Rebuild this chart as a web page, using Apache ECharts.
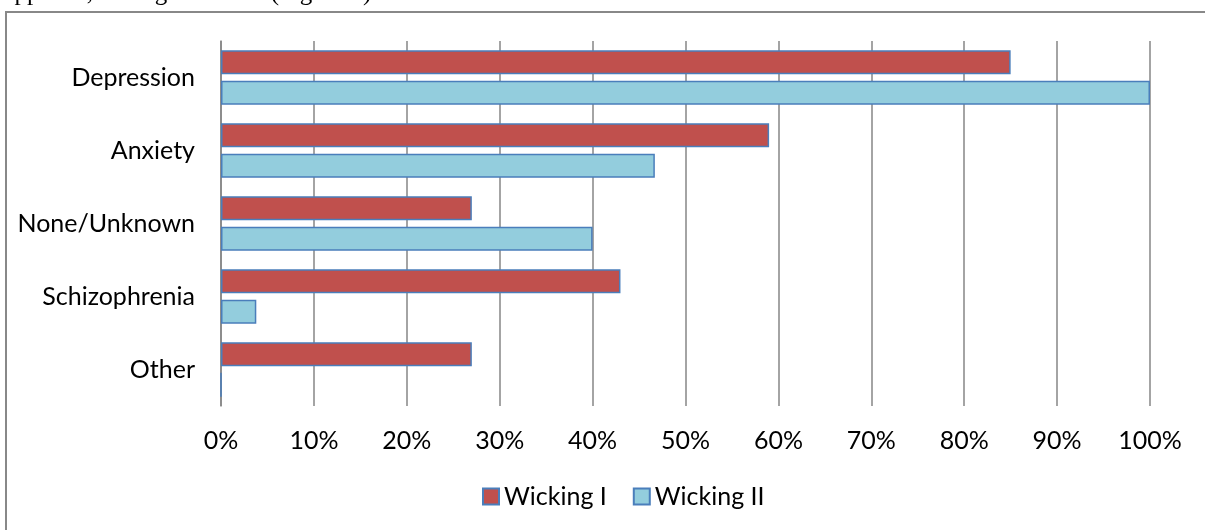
<!DOCTYPE html>
<html>
<head>
<meta charset="utf-8">
<script src="https://cdn.jsdelivr.net/npm/echarts@6/dist/echarts.min.js"></script>
<style>
  html, body { margin: 0; padding: 0; background: #fff; }
  #chart { width: 1205px; height: 530px; }
</style>
</head>
<body>
<div id="chart"></div>
<script>
// categories, top to bottom
const categories = ['Depression', 'Anxiety', 'None/Unknown', 'Schizophrenia', 'Other'];
// percent values
const wickingI = [85, 59, 27, 43, 27];
const wickingII = [100, 46.7, 40, 3.8, 0];
const seriesNames = ['Wicking I', 'Wicking II'];

const font = 'Lato, "Open Sans", sans-serif';

const chart = echarts.init(document.getElementById('chart'));

const option = {
  animation: false,
  backgroundColor: '#fff',
  // page text cut off above the chart + the chart frame
  graphic: [
    {
      type: 'text',
      left: 2,
      top: -19,
      style: {
        text: 'opposite, calling a Schoen (Figure 3)',
        font: '25px "Liberation Serif", "DejaVu Serif", serif',
        fill: '#000'
      }
    },
    {
      type: 'rect',
      shape: { x: 6, y: 12, width: 1250, height: 560 },
      style: { fill: 'none', stroke: '#888888', lineWidth: 2 }
    }
  ],
  grid: {
    left: 221,
    right: 55,
    top: 41,
    height: 365
  },
  legend: {
    data: seriesNames,
    left: 477,
    top: 479,
    icon: 'rect',
    itemWidth: 16,
    itemHeight: 16,
    itemGap: 26,
    textStyle: { fontSize: 25, fontFamily: font, color: '#000' }
  },
  xAxis: {
    type: 'value',
    min: 0,
    max: 100,
    interval: 10,
    axisLine: { show: false },
    axisTick: { show: false },
    axisLabel: {
      formatter: '{value}%',
      fontSize: 25,
      fontFamily: font,
      color: '#000',
      margin: 22
    },
    splitLine: { lineStyle: { color: '#868686', width: 1.5 } }
  },
  yAxis: {
    type: 'category',
    data: categories,
    inverse: true,
    axisLine: { lineStyle: { color: '#868686', width: 1.5 } },
    axisTick: { show: false },
    axisLabel: {
      fontSize: 25,
      fontFamily: font,
      color: '#000',
      margin: 26
    }
  },
  series: [
    {
      name: seriesNames[0],
      type: 'bar',
      data: wickingI,
      barWidth: 24,
      barGap: '28%',
      itemStyle: { color: '#C0504D', borderColor: '#4A7EBB', borderWidth: 1.5 }
    },
    {
      name: seriesNames[1],
      type: 'bar',
      data: wickingII,
      barWidth: 24,
      itemStyle: { color: '#93CDDD', borderColor: '#4A7EBB', borderWidth: 1.5 }
    }
  ]
};

chart.setOption(option);
</script>
</body>
</html>
